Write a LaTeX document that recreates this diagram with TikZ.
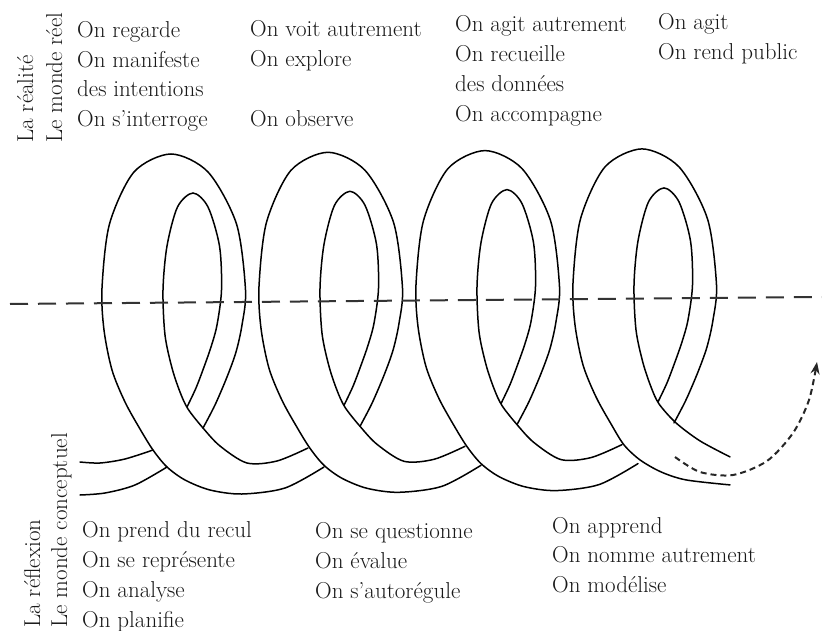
\documentclass[tikz,border=0pt]{standalone}
\usetikzlibrary{arrows.meta}
\begin{document}
\begin{tikzpicture}[x=1pt,y=-1pt,
  band/.style={line width=1.5pt, black, line cap=round},
  lbl/.style={anchor=base west, inner sep=0pt, text=black!90, font=\fontsize{23}{27}\selectfont},
  vlbl/.style={lbl, rotate=90},
  axisline/.style={line width=2pt, black!80, dash pattern=on 18pt off 10pt},
  flow/.style={line width=2pt, black!85, dash pattern=on 6pt off 4pt, -{Stealth[length=12pt,width=9pt]}}]
\useasboundingbox (0,0) rectangle (822,631);

% ---- coil: loops 1 to 3 ----
\foreach \k in {0,1,2} {
  \begin{scope}[shift={(157*\k,-1.7*\k)}]
    \draw[band] plot[smooth] coordinates {(203,428) (215,405) (227,377) (236,352) (242,325) (245.5,290) (236.5,224) (208,172) (171,154) (134,172) (109.5,224) (102,288) (104,330) (112,370) (125,402) (140,429) (153,450) (167,467) (185,480) (210,490) (242,494) (285,488) (324,467)};
    \draw[band] plot[smooth] coordinates {(187,407) (196,388) (204,367) (211,347) (217,325) (221.5,290) (219.5,246) (208,207) (193,193) (177.5,207) (167,246) (163,290) (165,335) (172,368) (180,392) (188,409) (203,428) (220,446) (247,463) (277,461) (308,448)};
  \end{scope}
}
% ---- coil: loop 4 (end of the ribbon) ----
\begin{scope}[shift={(471,-5.1)}]
  \draw[band] plot[smooth] coordinates {(203,428) (215,405) (227,377) (236,352) (242,325) (245.5,290) (236.5,224) (208,172) (171,154) (134,172) (109.5,224) (102,288) (104,330) (112,370) (125,402) (140,429) (153,450) (169,465) (190,477) (215,485) (259,490)};
  \draw[band] plot[smooth] coordinates {(187,407) (196,388) (204,367) (211,347) (217,325) (221.5,290) (219.5,246) (208,207) (193,193) (177.5,207) (167,246) (163,290) (165,335) (172,368) (180,392) (188,409) (205,428) (229,446) (259,462)};
\end{scope}
% ---- ribbon entering from the left ----
\draw[band] plot[smooth] coordinates {(80,462) (100,463) (125,459) (153,450)};
\draw[band] plot[smooth] coordinates {(80,495) (105,493) (135,485) (167,467)};

% ---- dividing line ----
\coordinate (al) at (10,304);
\coordinate (ar) at (822,297);
\draw[axisline] (al) -- (ar);

% ---- dashed return arrow ----
\coordinate (fs) at (675,457);
\coordinate (fe) at (817,362);
\draw[flow] plot[smooth] coordinates {(fs) (700,472) (733,475) (767,461) (793,433) (809,400) (fe)};

% ---- side labels ----
\node[vlbl] (real1) at (33,143) {La réalité};
\node[vlbl] (real2) at (62,143) {Le monde réel};
\node[vlbl] (refl1) at (40,628) {La réflexion};
\node[vlbl] (refl2) at (67,628) {Le monde conceptuel};

% ---- top texts ----
\node[lbl] (t11) at (77,38) {On regarde};
\node[lbl] (t12) at (77,68) {On manifeste};
\node[lbl] (t13) at (77,97) {des intentions};
\node[lbl] (t14) at (77,127) {On s’interroge};
\node[lbl] (t21) at (250,37) {On voit autrement};
\node[lbl] (t22) at (250,67) {On explore};
\node[lbl] (t23) at (250,127) {On observe};
\node[lbl] (t31) at (455,32) {On agit autrement};
\node[lbl] (t32) at (455,62) {On recueille};
\node[lbl] (t33) at (455,92) {des données};
\node[lbl] (t34) at (455,122) {On accompagne};
\node[lbl] (t41) at (658,30) {On agit};
\node[lbl] (t42) at (658,60) {On rend public};

% ---- bottom texts ----
\node[lbl] (b11) at (82,537) {On prend du recul};
\node[lbl] (b12) at (82,567) {On se représente};
\node[lbl] (b13) at (82,597) {On analyse};
\node[lbl] (b14) at (82,627) {On planifie};
\node[lbl] (b21) at (315,538) {On se questionne};
\node[lbl] (b22) at (315,568) {On évalue};
\node[lbl] (b23) at (315,598) {On s’autorégule};
\node[lbl] (b31) at (552,533) {On apprend};
\node[lbl] (b32) at (552,562) {On nomme autrement};
\node[lbl] (b33) at (552,592) {On modélise};
\end{tikzpicture}
\end{document}
